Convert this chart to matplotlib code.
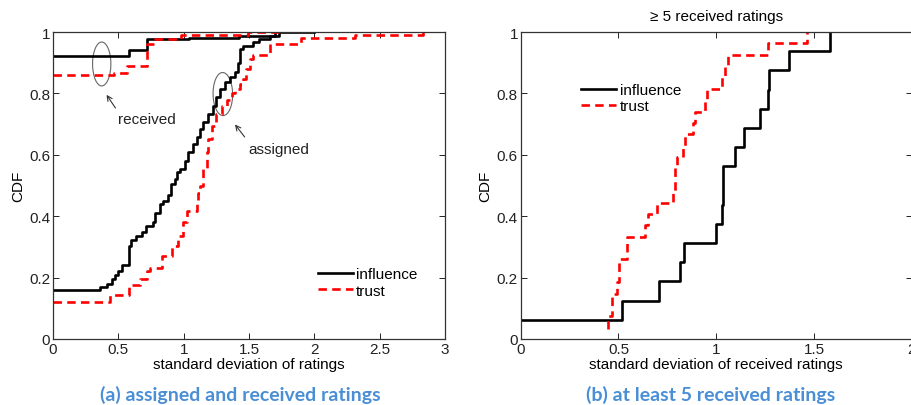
import matplotlib
matplotlib.use("Agg")
import matplotlib.pyplot as plt
from matplotlib.patches import Ellipse

plt.rcParams['font.family'] = ['Liberation Sans', 'DejaVu Sans']

# ---------------- data ----------------
# (a) left panel
inf_assigned_x = [0, 0.36, 0.41, 0.45, 0.475, 0.50, 0.525, 0.584, 0.60, 0.635, 0.68, 0.71,
                  0.767, 0.78, 0.82, 0.845, 0.88, 0.90, 0.93, 0.946, 0.97, 1.01, 1.035, 1.07,
                  1.10, 1.125, 1.15, 1.19, 1.226, 1.25, 1.278, 1.316, 1.354, 1.39, 1.418,
                  1.43, 1.456, 1.53, 1.58, 1.66, 1.70]
inf_assigned_y = [0.16, 0.17, 0.18, 0.195, 0.21, 0.222, 0.24, 0.304, 0.322, 0.334, 0.347, 0.369,
                  0.38, 0.41, 0.44, 0.45, 0.47, 0.505, 0.52, 0.543, 0.554, 0.58, 0.608, 0.635,
                  0.657, 0.684, 0.706, 0.733, 0.76, 0.79, 0.814, 0.836, 0.852, 0.869, 0.90,
                  0.945, 0.955, 0.966, 0.977, 0.988, 1.0]

trust_assigned_x = [0, 0.436, 0.584, 0.666, 0.717, 0.742, 0.832, 0.908, 0.959, 0.997, 1.023,
                    1.10, 1.11, 1.125, 1.15, 1.176, 1.19, 1.214, 1.25, 1.29, 1.33, 1.367, 1.39,
                    1.43, 1.456, 1.48, 1.507, 1.53, 1.66, 1.90, 2.31, 2.83]
trust_assigned_y = [0.122, 0.143, 0.176, 0.195, 0.222, 0.23, 0.269, 0.304, 0.337, 0.38, 0.418,
                    0.445, 0.477, 0.50, 0.554, 0.608, 0.651, 0.695, 0.733, 0.76, 0.78, 0.80, 0.814,
                    0.83, 0.847, 0.879, 0.912, 0.925, 0.962, 0.982, 0.99, 1.0]

inf_received_x = [0, 0.584, 0.717, 1.04, 1.42, 1.73, 2.0]
inf_received_y = [0.923, 0.941, 0.978, 0.982, 0.988, 1.0, 1.0]

trust_received_x = [0, 0.47, 0.57, 0.717, 0.78, 0.98, 1.49, 1.74]
trust_received_y = [0.86, 0.866, 0.891, 0.96, 0.977, 0.99, 1.0, 1.0]

# (b) right panel
inf_b_x = [0, 0.516, 0.709, 0.815, 0.837, 0.999, 1.031, 1.036, 1.096, 1.142, 1.224,
           1.266, 1.270, 1.374, 1.582]
inf_b_y = [0.0625, 0.125, 0.1875, 0.25, 0.3125, 0.375, 0.4375, 0.5625, 0.625, 0.6875,
           0.75, 0.8125, 0.875, 0.9375, 1.0]

trust_b_x = [0.448, 0.448, 0.465, 0.49, 0.505, 0.545, 0.636, 0.653, 0.695, 0.78, 0.79,
             0.80, 0.832, 0.84, 0.883, 0.89, 0.945, 0.951, 1.028, 1.045, 1.062, 1.266, 1.463]
trust_b_y = [0.033, 0.074, 0.148, 0.185, 0.259, 0.333, 0.370, 0.407, 0.444, 0.481, 0.556,
             0.593, 0.630, 0.667, 0.704, 0.741, 0.778, 0.815, 0.852, 0.889, 0.926, 0.963, 1.0]

yticks = [0, 0.2, 0.4, 0.6, 0.8, 1]
ytick_labels = ["0", "0.2", "0.4", "0.6", "0.8", "1"]
xticks_a = [0, 0.5, 1, 1.5, 2, 2.5, 3]
xtick_labels_a = ["0", "0.5", "1", "1.5", "2", "2.5", "3"]
xticks_b = [0, 0.5, 1, 1.5, 2]
xtick_labels_b = ["0", "0.5", "1", "1.5", "2"]

FS = 11

# ---------------- figure ----------------
fig = plt.figure(figsize=(9.12, 4.06), dpi=100)
axA = fig.add_axes([0.0581, 0.1626, 0.4298, 0.756])
axB = fig.add_axes([0.5710, 0.1626, 0.4287, 0.756])

BLACK = dict(color='black', lw=1.9, drawstyle='steps-post')
RED = dict(color='#ff0000', lw=1.9, drawstyle='steps-post', linestyle=(0, (3.2, 2.0)))

axA.plot(inf_assigned_x, inf_assigned_y, label='influence', **BLACK)
axA.plot(trust_assigned_x, trust_assigned_y, label='trust', **RED)
axA.plot(inf_received_x, inf_received_y, **BLACK)
axA.plot(trust_received_x, trust_received_y, **RED)

axB.plot(inf_b_x, inf_b_y, label='influence', **BLACK)
axB.plot(trust_b_x, trust_b_y, label='trust', **RED)

for ax, xt, xl in ((axA, xticks_a, xtick_labels_a), (axB, xticks_b, xtick_labels_b)):
    ax.set_ylim(0, 1)
    ax.set_xlim(xt[0], xt[-1])
    ax.set_xticks(xt)
    ax.set_xticklabels(xl)
    ax.set_yticks(yticks)
    ax.set_yticklabels(ytick_labels)
    ax.tick_params(direction='in', top=True, right=True, length=4, width=0.7,
                   labelsize=FS, pad=2, colors='#222222')
    for s in ax.spines.values():
        s.set_linewidth(0.9)
        s.set_color('#333333')
    ax.set_ylabel('CDF', fontsize=FS, labelpad=3)
    ax.legend(frameon=False, fontsize=FS, handlelength=2.3, handletextpad=0.2,
              labelspacing=0.15, borderaxespad=0, borderpad=0)

axA.get_legend().set_bbox_to_anchor((0.675, 0.135), transform=axA.transAxes)
axA.get_legend().set_loc('lower left')
axB.get_legend().set_bbox_to_anchor((0.155, 0.735), transform=axB.transAxes)
axB.get_legend().set_loc('lower left')

axA.set_xlabel('standard deviation of ratings', fontsize=FS, labelpad=1)
axB.set_xlabel('standard deviation of received ratings', fontsize=FS, labelpad=1)
axB.set_title('\u2265 5 received ratings', fontsize=FS, pad=9)

# annotations in left panel
axA.add_patch(Ellipse((0.373, 0.896), 0.14, 0.143, fill=False, ec='#666666', lw=0.8))
axA.add_patch(Ellipse((1.30, 0.798), 0.15, 0.14, angle=-10, fill=False, ec='#666666', lw=0.8))
axA.annotate('', xy=(0.398, 0.803), xytext=(0.49, 0.745),
             arrowprops=dict(arrowstyle='->', color='#333333', lw=0.8, mutation_scale=9))
axA.annotate('', xy=(1.38, 0.706), xytext=(1.48, 0.651),
             arrowprops=dict(arrowstyle='->', color='#333333', lw=0.8, mutation_scale=9))
axA.text(0.72, 0.716, 'received', fontsize=FS, ha='center', va='center', color='#222222')
axA.text(1.73, 0.619, 'assigned', fontsize=FS, ha='center', va='center', color='#222222')

CAP = '#4a8fd6'
fig.text(0.264, 0.027, '(a) assigned and received ratings', fontsize=14, color=CAP,
         fontweight='bold', family=['Lato', 'DejaVu Sans'], ha='center', va='center')
fig.text(0.779, 0.027, '(b) at least 5 received ratings', fontsize=14, color=CAP,
         fontweight='bold', family=['Lato', 'DejaVu Sans'], ha='center', va='center')

fig.savefig('out.png', dpi=100)
